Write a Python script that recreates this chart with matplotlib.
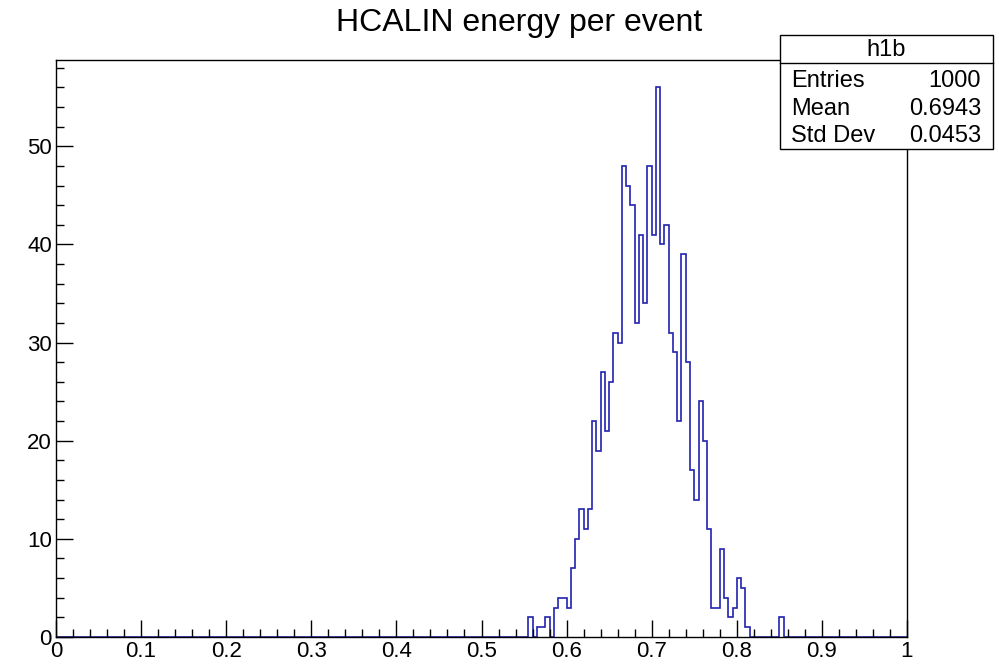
import numpy as np
import matplotlib
matplotlib.use('Agg')
import matplotlib.pyplot as plt
from matplotlib.patches import Rectangle
from matplotlib.ticker import MultipleLocator

# histogram h1b: 200 bins on [0, 1], non-empty part starts at bin 0.555
nBins = 200
xMin, xMax = 0.0, 1.0
firstBinLow = 0.555
binCounts = [2, 0, 1, 1, 2, 0, 3, 4, 4, 3,
             7, 10, 13, 11, 13, 22, 19, 27, 21, 26,
             31, 30, 48, 46, 44, 32, 41, 34, 48, 41,
             56, 40, 42, 31, 29, 22, 39, 28, 17, 14,
             24, 20, 11, 3, 3, 9, 4, 2, 3, 6,
             5, 1, 0, 0, 0, 0, 0, 0, 0, 2]

title = 'HCALIN energy per event'
statsName = 'h1b'
statsLabels = ['Entries', 'Mean', 'Std Dev']
statsValues = ['1000', '0.6943', '0.0453']


def makeHist():
    edges = np.linspace(xMin, xMax, nBins + 1)
    counts = np.zeros(nBins)
    start = int(round((firstBinLow - xMin) / (xMax - xMin) * nBins))
    counts[start:start + len(binCounts)] = binCounts
    return edges, counts


def makePlot():
    plt.rcParams['font.family'] = ['Liberation Sans', 'DejaVu Sans']
    edges, counts = makeHist()

    fig = plt.figure(figsize=[9.99, 6.65], dpi=100)
    ax = fig.add_axes([56 / 999, 1 - 637 / 665, 851 / 999, 577 / 665])

    ax.stairs(counts, edges, color='#2222b0', linewidth=1.2, baseline=0)

    ax.set_xlim(xMin, xMax)
    ax.set_ylim(0, counts.max() * 1.05)

    ax.xaxis.set_major_locator(MultipleLocator(0.1))
    ax.xaxis.set_minor_locator(MultipleLocator(0.02))
    ax.yaxis.set_major_locator(MultipleLocator(10))
    ax.yaxis.set_minor_locator(MultipleLocator(2))
    ax.set_xticks(np.arange(0, 1.01, 0.1))
    ax.set_xticklabels(['0', '0.1', '0.2', '0.3', '0.4', '0.5',
                        '0.6', '0.7', '0.8', '0.9', '1'])
    ax.tick_params(which='both', direction='in', top=False, right=False,
                   labelsize=16, width=1, color='black')
    ax.tick_params(which='major', length=12)
    ax.tick_params(which='minor', length=5.5)
    ax.tick_params(axis='x', pad=3)
    ax.tick_params(axis='y', pad=3)
    for s in ax.spines.values():
        s.set_linewidth(1)

    fig.text(519 / 999, 1 - 23 / 665, title, ha='center', va='center',
             fontsize=23)

    # stats box
    bx0, bx1 = 780 / 999, 993 / 999
    by0, by1 = 1 - 149 / 665, 1 - 35 / 665
    fig.patches.append(Rectangle((bx0, by0), bx1 - bx0, by1 - by0,
                                 transform=fig.transFigure, facecolor='white',
                                 edgecolor='black', linewidth=1, zorder=2))
    hy = 1 - 63 / 665
    fig.add_artist(plt.Line2D([bx0, bx1], [hy, hy], transform=fig.transFigure,
                              color='black', linewidth=1, zorder=3))
    fig.text((bx0 + bx1) / 2, 1 - 50 / 665, statsName, ha='center',
             va='center', fontsize=17, zorder=4)
    rowsY = [81, 109, 136]
    for lab, val, ry in zip(statsLabels, statsValues, rowsY):
        fig.text(791 / 999, 1 - ry / 665, lab, ha='left', va='center',
                 fontsize=17, zorder=4)
        fig.text(981 / 999, 1 - ry / 665, val, ha='right', va='center',
                 fontsize=17, zorder=4)

    fig.savefig('out.png', dpi=100)
    plt.close(fig)


if __name__ == '__main__':
    makePlot()
